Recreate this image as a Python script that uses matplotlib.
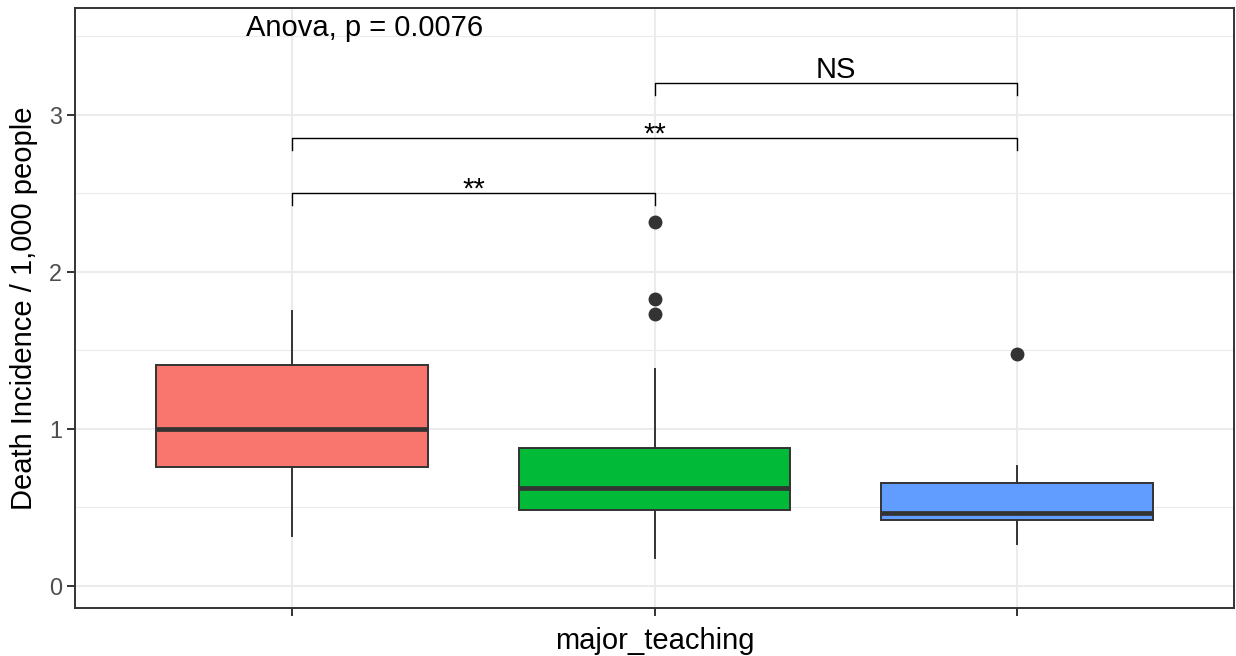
import matplotlib
matplotlib.use('Agg')
import matplotlib.pyplot as plt
from matplotlib.ticker import MultipleLocator

plt.rcParams['font.family'] = ['Liberation Sans', 'DejaVu Sans']

# ---- data ----
groups = ['1', '2', '3']
fills = ['#F8766D', '#00BA38', '#619CFF']
whislo = [0.32, 0.18, 0.27]
q1 = [0.76, 0.484, 0.42]
med = [1.00, 0.626, 0.463]
q3 = [1.41, 0.88, 0.656]
whishi = [1.75, 1.38, 0.764]
outliers = [[], [2.32, 1.83, 1.73], [1.48]]

# comparison brackets: (from, to, height, label)
comparisons = [(1, 2, 2.50, '**'), (1, 3, 2.85, '**'), (2, 3, 3.20, 'NS')]
anova_label = 'Anova, p = 0.0076'

fig = plt.figure(figsize=(12.36, 6.56), dpi=100)
ax = fig.add_axes([75 / 1236, 48 / 656, 1159 / 1236, 600 / 656])

stats = []
for i in range(len(groups)):
    stats.append(dict(med=med[i], q1=q1[i], q3=q3[i], whislo=whislo[i],
                      whishi=whishi[i], fliers=outliers[i], label=groups[i]))

positions = [1, 2, 3]
bp = ax.bxp(stats, positions=positions, widths=0.75, patch_artist=True,
            showcaps=False, zorder=3,
            boxprops=dict(edgecolor='#333333', linewidth=1.4),
            medianprops=dict(color='#333333', linewidth=3.4, solid_capstyle='butt'),
            whiskerprops=dict(color='#333333', linewidth=1.4),
            flierprops=dict(marker='o', markerfacecolor='#333333',
                            markeredgecolor='#333333', markersize=9))
for patch, c in zip(bp['boxes'], fills):
    patch.set_facecolor(c)

# brackets
tick_len = 0.075
for a, b, h, lab in comparisons:
    ax.plot([a, a, b, b], [h - tick_len, h, h, h - tick_len],
            color='black', lw=1.0, zorder=4)
    off = 0.032 if lab == 'NS' else -0.028
    ax.text((a + b) / 2, h + off, lab, ha='center', va='baseline', fontsize=21)

ax.text(0.873, 3.5, anova_label, ha='left', va='baseline', fontsize=21)

ax.set_xlim(0.4, 3.6)
ax.set_ylim(-0.14, 3.68)
ax.set_xticks(positions)
ax.set_xticklabels([])
ax.yaxis.set_major_locator(MultipleLocator(1))
ax.yaxis.set_minor_locator(MultipleLocator(0.5))

ax.grid(True, which='major', color='#EBEBEB', lw=1.5, zorder=0)
ax.grid(True, which='minor', axis='y', color='#EBEBEB', lw=0.8, zorder=0)
ax.set_axisbelow(True)

for s in ax.spines.values():
    s.set_color('#333333')
    s.set_linewidth(1.4)

ax.tick_params(axis='both', which='major', length=6, width=1.4, color='#333333',
               pad=3.5, labelsize=16.8, labelcolor='#4D4D4D')
ax.tick_params(axis='y', which='minor', length=0)

ax.set_xlabel('major_teaching', fontsize=21)
ax.set_ylabel('Death Incidence / 1,000 people', fontsize=21)
ax.xaxis.set_label_coords(0.5, -0.032)
ax.yaxis.set_label_coords(-0.032, 0.5)

fig.savefig('out.png', dpi=100)
